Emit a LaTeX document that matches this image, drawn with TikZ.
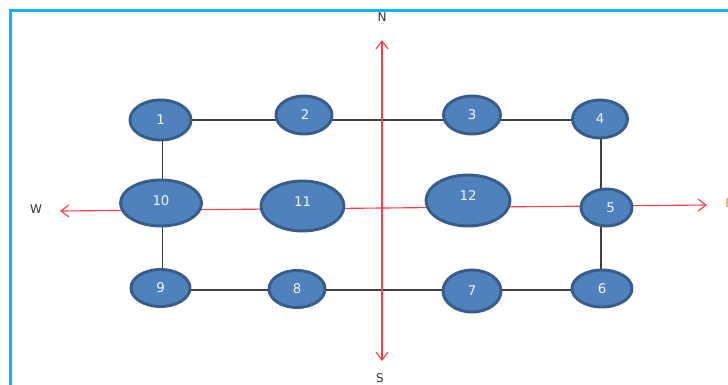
\documentclass[tikz,border=0pt]{standalone}
\usepackage{fontspec}
\setmainfont{DejaVu Sans}
\usetikzlibrary{shapes.geometric,arrows.meta,backgrounds}
\definecolor{nodefill}{HTML}{4F81BD}
\definecolor{nodeedge}{HTML}{385D8A}
\definecolor{frameblue}{HTML}{00B8FF}
\definecolor{axisred}{HTML}{FF3B4A}
\definecolor{edgegrey}{HTML}{404040}
\definecolor{eastcol}{HTML}{C89A3C}
\newcommand{\nudged}[3]{\raisebox{\dimexpr #2pt*3/4\relax}{\hspace*{\dimexpr #1pt*3/2\relax}#3}}
\tikzset{
  px/.style={x=0.75pt,y=-0.75pt},
  city/.style={ellipse,draw=nodeedge,line width=2.2pt,fill=nodefill,text=white!92!nodefill,
    inner sep=0pt,font=\fontsize{10}{12}\selectfont},
  link/.style={draw=edgegrey,line width=0.85pt},
  uplink/.style={draw=edgegrey,line width=1.1pt},
  axis/.style={draw=axisred,line width=0.85pt,{Straight Barb[length=6pt,width=9pt]}-{Straight Barb[length=6pt,width=9pt]}},
  compass/.style={inner sep=0pt,font=\fontsize{9}{11}\selectfont,text=black!80}
}
\begin{document}
\begin{tikzpicture}[px]
\useasboundingbox (0,0) rectangle (728,385);
\draw[frameblue,line width=2.2pt] (10.5,385) -- (10.5,10.5) -- (728,10.5);
% nodes
\node[city,minimum width=45.75pt,minimum height=30pt] (n1) at (160.5,120) {\nudged{0}{1}{1}};
\node[city,minimum width=42pt,minimum height=28.5pt] (n2) at (304,115) {\nudged{1}{0}{2}};
\node[city,minimum width=42.75pt,minimum height=28.5pt] (n3) at (472,115) {\nudged{0}{0}{3}};
\node[city,minimum width=41.25pt,minimum height=28.5pt] (n4) at (600,119) {\nudged{0}{0}{4}};
\node[city,minimum width=38.25pt,minimum height=27.75pt] (n5) at (606.5,207.5) {\nudged{4}{0}{5}};
\node[city,minimum width=45pt,minimum height=27.75pt] (n6) at (602,288.5) {\nudged{0}{0}{6}};
\node[city,minimum width=43.5pt,minimum height=31.5pt] (n7) at (472,291) {\nudged{0}{1}{7}};
\node[city,minimum width=42pt,minimum height=27.75pt] (n8) at (297,289) {\nudged{0}{0}{8}};
\node[city,minimum width=44.25pt,minimum height=27.75pt] (n9) at (160.5,288) {\nudged{0}{0}{9}};
\node[city,minimum width=60.75pt,minimum height=34.5pt] (n10) at (161,203) {\nudged{0}{4}{10}};
\node[city,minimum width=62.25pt,minimum height=37.5pt] (n11) at (302.5,206) {\nudged{0}{8}{11}};
\node[city,minimum width=63pt,minimum height=38.25pt] (n12) at (468,200.5) {\nudged{0}{9}{12}};
% compass labels
\node[compass] (lN) at (382,17) {N};
\node[compass] (lS) at (380,378.5) {S};
\node[compass] (lW) at (36,209) {W};
\node[compass,text=eastcol,anchor=west] (lE) at (725,203) {E};
\coordinate (an) at (382,40);
\coordinate (as) at (382,361);
\coordinate (aw) at (60,211);
\coordinate (ae) at (707,205);
\coordinate (xw) at (162.5,0);
\coordinate (xe) at (601,0);
\coordinate (yt) at (0,120);
\coordinate (yb) at (0,290);
\begin{scope}[on background layer]
  \path[link] (n1 |- yt) -- (n2 |- yt) -- (n3 |- yt) -- (n4 |- yt);
  \path[link] (n9 |- yb) -- (n8 |- yb) -- (n7 |- yb) -- (n6 |- yb);
  \path[uplink] (xw |- n1) -- (xw |- n10) -- (xw |- n9);
  \path[uplink] (xe |- n4) -- (xe |- n5) -- (xe |- n6);
  \path[axis] (aw) -- (ae);
  \path[axis] (an) -- (as);
\end{scope}
\end{tikzpicture}
\end{document}
